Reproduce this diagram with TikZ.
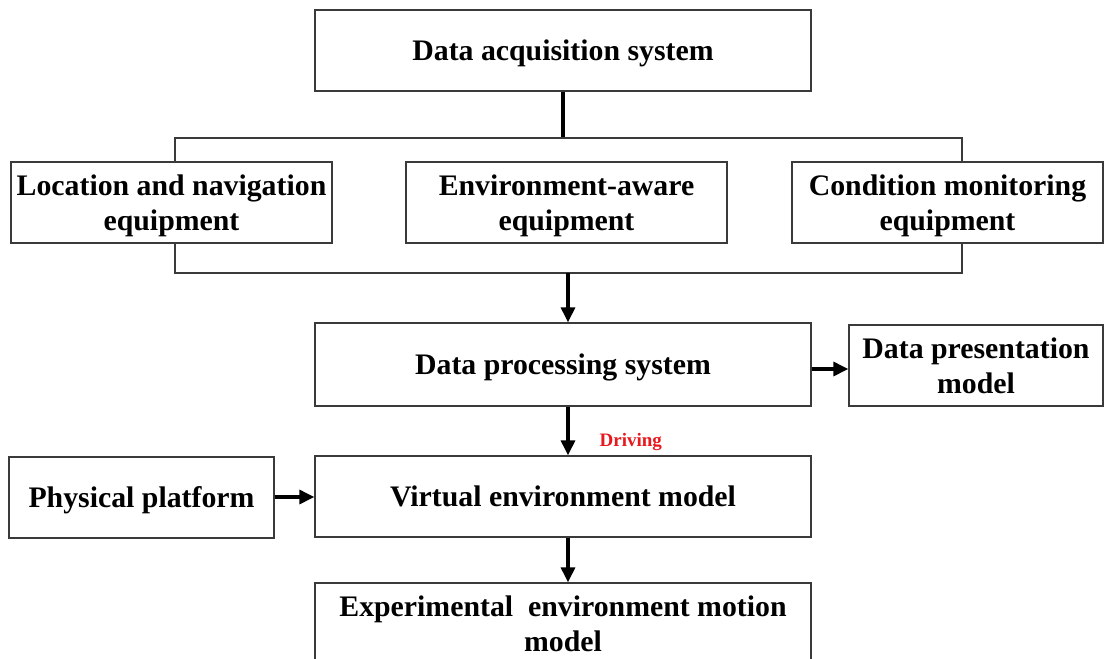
\documentclass[tikz,border=0pt]{standalone}
\usepackage{fontspec}
\setmainfont{Liberation Serif}
\usetikzlibrary{arrows.meta,positioning,calc}
\definecolor{dgInk}{HTML}{000000}
\definecolor{dgFrame}{HTML}{3A3A3A}
\definecolor{dgRed}{HTML}{E8191E}
\tikzset{
  box/.style     ={draw=dgFrame,line width=1.3pt,fill=white,inner sep=2pt,
                   align=center,text depth=0pt,
                   font=\fontsize{29.8}{35}\selectfont\bfseries},
  widebox/.style ={box,minimum width=496pt,minimum height=81pt},
  eqbox/.style   ={box,minimum width=321pt,minimum height=81pt},
  bracket/.style ={dgFrame,line width=1.3pt},
  flow/.style    ={-{Triangle[length=15pt,width=14pt]},dgInk,line width=3.2pt},
  stem/.style    ={dgInk,line width=3.2pt},
  rlbl/.style    ={font=\fontsize{19}{21}\selectfont\bfseries,text=dgRed,inner sep=0pt},
}
\begin{document}
\begin{tikzpicture}[x=1pt,y=-1pt]
\useasboundingbox (0,0) rectangle (1104,659);
\clip (0,0) rectangle (1104,659);

% acquisition layer
\node[widebox] (das) at (563,50.5) {Data acquisition system};
\node[eqbox] (loc)  at (171.5,202.5) {Location and navigation\\equipment};
\node[eqbox] (env)  at (566.5,202.5) {Environment-aware\\equipment};
\node[box,minimum width=311pt,minimum height=81pt] (cond) at (947.5,202.5)
  {Condition monitoring\\equipment};

\coordinate (tl) at (175,138);  \coordinate (tr) at (962,138);
\coordinate (bl) at (175,273);  \coordinate (br) at (962,273);
\coordinate (join) at (568,273);
\draw[stem] (das.south) -- (das.south |- tl);
\draw[bracket] (tl |- loc.north) -- (tl) -- (tr) -- (tr |- cond.north);
\draw[bracket] (bl |- loc.south) -- (bl) -- (br) -- (br |- cond.south);

% processing and models
\node[widebox,minimum height=83pt] (dps) at (563,364.5) {Data processing system};
\node[box,minimum width=254pt,minimum height=81pt] (pres) at (976,365.5)
  {Data presentation\\model};
\node[widebox] (vem) at (563,496.5) {Virtual environment model};
\node[box,minimum width=265pt,minimum height=81pt] (phys) at (141.5,497.5)
  {Physical platform};
\node[widebox] (exp) at (563,623.5) {Experimental\ \ environment motion\\model};

\draw[flow] (join) -- (join |- dps.north);
\draw[flow] (dps.east |- 0,369) -- (pres.west |- 0,369);
\draw[flow] ([xshift=5pt]dps.south) -- ([xshift=5pt]vem.north)
  node[rlbl,pos=0.72,right=30pt] (drv) {Driving};
\draw[flow] (phys.east |- 0,497) -- (vem.west |- 0,497);
\draw[flow] ([xshift=5pt]vem.south) -- ([xshift=5pt]exp.north);
\end{tikzpicture}
\end{document}
